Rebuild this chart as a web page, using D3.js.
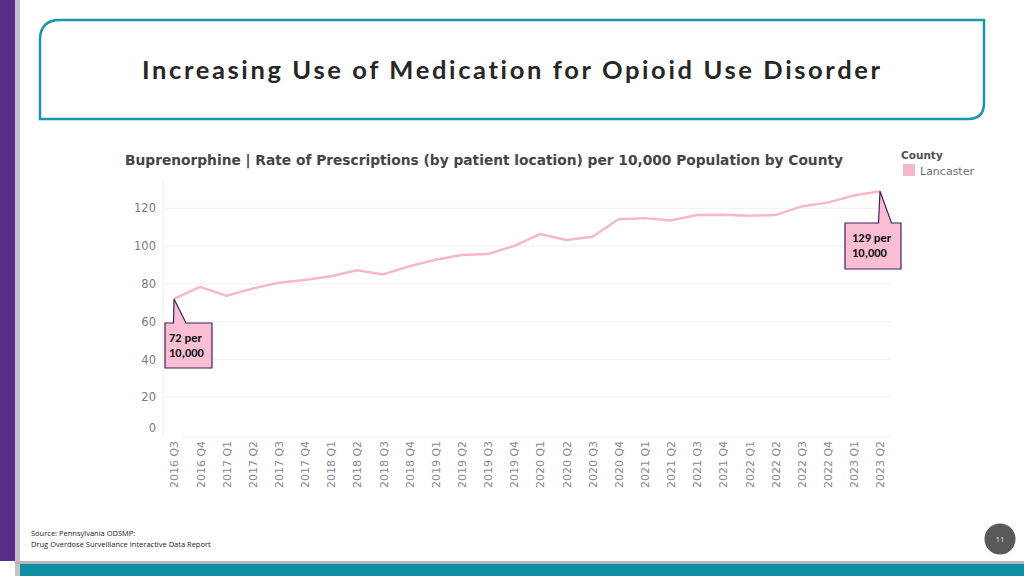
<!DOCTYPE html>
<html><head><meta charset="utf-8">
<script src="https://cdn.jsdelivr.net/npm/d3@7"></script>
<style>html,body{margin:0;padding:0;background:#fff;overflow:hidden} text{font-variant-ligatures:none}</style>
</head><body>
<svg id="c" width="1024" height="576"></svg>
<script>
const quarters = ["2016 Q3","2016 Q4","2017 Q1","2017 Q2","2017 Q3","2017 Q4","2018 Q1","2018 Q2","2018 Q3","2018 Q4","2019 Q1","2019 Q2","2019 Q3","2019 Q4","2020 Q1","2020 Q2","2020 Q3","2020 Q4","2021 Q1","2021 Q2","2021 Q3","2021 Q4","2022 Q1","2022 Q2","2022 Q3","2022 Q4","2023 Q1","2023 Q2"];
const lancaster = [72,78.4,73.7,77.5,80.6,82,84,87.2,85,89.3,92.8,95.3,95.8,100,106.4,103.2,104.9,114.2,114.8,113.6,116.5,116.6,116.1,116.4,121,123,126.8,129];
const yTicks = [0,20,40,60,80,100,120];
const callouts = [{i:0, lines:["72 per","10,000"]},{i:27, lines:["129 per","10,000"]}];
const titleText = "Increasing Use of Medication for Opioid Use Disorder";
const chartTitle = "Buprenorphine | Rate of Prescriptions (by patient location) per 10,000 Population by County";
const legendTitle = "County", legendItem = "Lancaster";
const sourceLines = ["Source: Pennsylvania ODSMP:","Drug Overdose Surveillance Interactive Data Report"];
const pageNum = "11";

const svg = d3.select("#c");
const pink = "#f5b8cb", boxFill = "#f9bdd4", boxStroke = "#3e1f5e";

// slide decoration
svg.append("rect").attr("x",0).attr("y",0).attr("width",15).attr("height",561).attr("fill","#5b2c86");
svg.append("rect").attr("x",15).attr("y",0).attr("width",5).attr("height",576).attr("fill","#c4c2c8");
svg.append("rect").attr("x",15).attr("y",561).attr("width",1009).attr("height",3).attr("fill","#b8b4bc");
svg.append("rect").attr("x",20).attr("y",564).attr("width",1004).attr("height",12).attr("fill","#0f8fa2");

// title box: top-left & bottom-right rounded
{
  const x0=40,y0=20,x1=984,y1=119,r=20,r2=16;
  const p = `M${x0},${y1} L${x0},${y0+r} Q${x0},${y0} ${x0+r},${y0} L${x1},${y0} L${x1},${y1-r2} Q${x1},${y1} ${x1-r2},${y1} Z`;
  svg.append("path").attr("d",p).attr("fill","#fff").attr("stroke","#1996aa").attr("stroke-width",2.5);
}
svg.append("text").attr("x",142).attr("y",79)
  .attr("font-family","Lato, 'Open Sans', sans-serif").attr("font-weight","bold").attr("font-size",25.5)
  .attr("textLength",738).attr("lengthAdjust","spacing").attr("fill","#262626").text(titleText);

// chart
const x = d3.scalePoint().domain(quarters).range([174,880]);
const y = d3.scaleLinear().domain([0,120]).range([435,208.3]);

svg.append("text").attr("x",125).attr("y",165).attr("font-family","'DejaVu Sans', Verdana, sans-serif")
  .attr("font-weight","bold").attr("font-size",13.5).attr("fill","#454545")
  .attr("textLength",718).attr("lengthAdjust","spacingAndGlyphs").text(chartTitle);

// gridlines
const grid = svg.append("g");
grid.selectAll("line").data(yTicks.filter(d=>d>0)).join("line")
  .attr("x1",163).attr("x2",891).attr("y1",d=>y(d)).attr("y2",d=>y(d))
  .attr("stroke","#efefef").attr("stroke-width",1);
svg.append("line").attr("x1",163).attr("x2",163).attr("y1",178).attr("y2",437).attr("stroke","#ececec");
svg.append("line").attr("x1",183).attr("x2",891).attr("y1",437).attr("y2",437).attr("stroke","#f0f0f0");

// y axis labels
const yAxis = d3.axisLeft(y).tickValues(yTicks).tickSize(0).tickPadding(0);
const ya = svg.append("g").attr("transform","translate(156,0)").call(yAxis);
ya.select(".domain").remove();
ya.selectAll("text").attr("font-family","'DejaVu Sans', Verdana, sans-serif").attr("font-size",11.5).attr("fill","#7a7a7a")
  .attr("dy", d => d===0 ? "-0.3em" : "0.32em");

// x axis labels
const xAxis = d3.axisBottom(x).tickSize(0).tickPadding(0);
const xa = svg.append("g").attr("transform","translate(0,441)").call(xAxis);
xa.select(".domain").remove();
xa.selectAll("text").attr("font-family","'DejaVu Sans', Verdana, sans-serif").attr("font-size",11).attr("fill","#8a8a8a")
  .attr("text-anchor","end").attr("transform","rotate(-90)").attr("x",0).attr("y",0).attr("dy","0.35em").attr("dx",0)
  .attr("textLength",47).attr("lengthAdjust","spacingAndGlyphs");

// line
svg.append("path").datum(lancaster)
  .attr("d", d3.line().x((d,i)=>x(quarters[i])).y(d=>y(d)))
  .attr("fill","none").attr("stroke",pink).attr("stroke-width",2.5).attr("stroke-linejoin","round");

// legend
svg.append("text").attr("x",901).attr("y",159).attr("font-family","'DejaVu Sans', Verdana, sans-serif")
  .attr("font-weight","bold").attr("font-size",10.5).attr("fill","#505050").text(legendTitle);
svg.append("rect").attr("x",903).attr("y",164).attr("width",12).attr("height",12).attr("fill",pink);
svg.append("text").attr("x",920).attr("y",175).attr("font-family","'DejaVu Sans', Verdana, sans-serif")
  .attr("font-size",11).attr("fill","#707070").text(legendItem);

// callouts
const boxes = [
  {bx:165, by:323, bw:47, bh:45, baseL:173.5, baseR:186},
  {bx:845, by:223, bw:56, bh:46, baseL:878.5, baseR:891.5}
];
callouts.forEach((c,k)=>{
  const b = boxes[k];
  const tx = x(quarters[c.i]), ty = y(lancaster[c.i]);
  const p = `M${b.bx},${b.by} L${b.baseL},${b.by} L${tx},${ty} L${b.baseR},${b.by} L${b.bx+b.bw},${b.by} L${b.bx+b.bw},${b.by+b.bh} L${b.bx},${b.by+b.bh} Z`;
  svg.append("path").attr("d",p).attr("fill",boxFill).attr("stroke",boxStroke).attr("stroke-width",1.2);
  const t = svg.append("text").attr("font-family","Carlito, 'Open Sans', sans-serif").attr("font-weight","bold")
    .attr("font-size",12.5).attr("fill","#111");
  c.lines.forEach((ln,j)=>t.append("tspan").attr("x",b.bx+(k?7:4)).attr("y",b.by+19+j*15).text(ln));
});

// footer
sourceLines.forEach((s,j)=>svg.append("text").attr("x",31).attr("y",536+j*11)
  .attr("font-family","'Open Sans', sans-serif").attr("font-size",7.5).attr("fill","#222").text(s));
svg.append("circle").attr("cx",1000).attr("cy",539).attr("r",15.5).attr("fill","#595959");
svg.append("text").attr("x",1000).attr("y",542).attr("text-anchor","middle").attr("font-family","'Open Sans', sans-serif")
  .attr("font-size",8).attr("fill","#ddd").text(pageNum);
</script>
</body></html>
